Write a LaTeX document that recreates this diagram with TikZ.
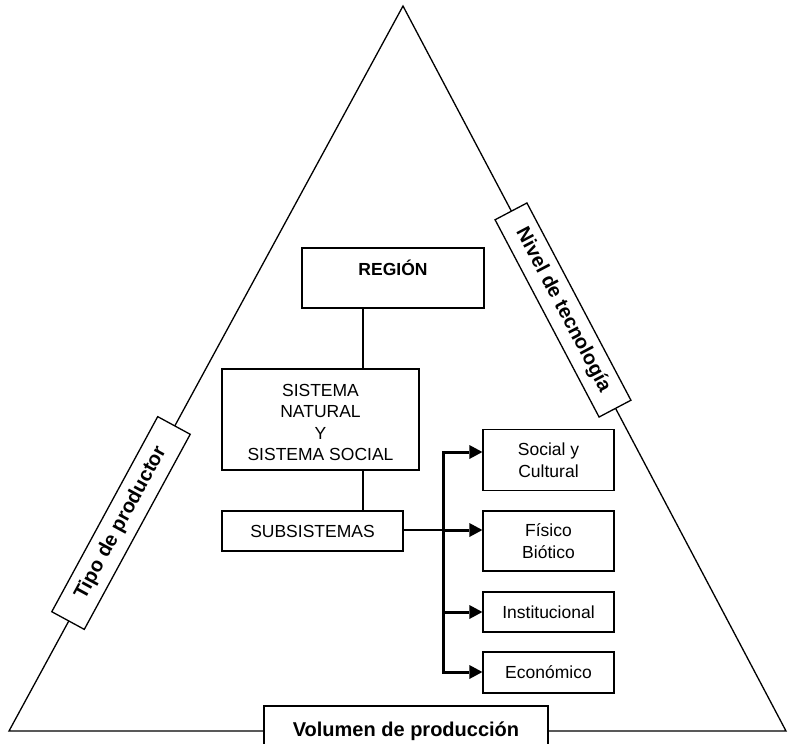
\documentclass[tikz,border=0pt]{standalone}
\usepackage{fontspec}
\setmainfont{Liberation Sans}
\usetikzlibrary{arrows.meta}
\begin{document}
\begin{tikzpicture}[x=1pt,y=-1pt,line width=1.3pt,
  box/.style={draw,fill=white,line width=1.3pt,inner sep=0pt,align=center,
    font=\fontsize{17.5}{21.5}\selectfont},
  boxtext/.style={inner sep=0pt,align=center,font=\fontsize{17.5}{21.5}\selectfont},
  lbl/.style={draw,fill=white,line width=1.3pt,inner sep=0pt,
    font=\fontsize{20}{24}\selectfont\bfseries},
  arr/.style={line width=3pt,-{Triangle[length=13pt,width=14pt,line width=0pt]}},
  conn/.style={line width=1.3pt}
]
\useasboundingbox (0,0) rectangle (790,744);
\clip (0,0) rectangle (790,744);
\fill[white] (0,0) rectangle (790,744);

% triangle
\coordinate (apex) at (403,6);
\coordinate (bl) at (9,731);
\coordinate (br) at (786,731);
\draw[line width=1.3pt] (apex) -- (bl) -- (br) -- cycle;

% side labels
\node[lbl,rotate=61.5,minimum width=222pt,minimum height=37pt] (tipo) at (121,523) {Tipo de productor};
\node[lbl,rotate=-62.2,minimum width=223pt,minimum height=36pt] (nivel) at (563,310) {Nivel de tecnología};
\node[lbl,minimum width=284pt,minimum height=50pt] (volumen) at (406,731) {Volumen de producción};

% central boxes
\node[box,minimum width=182pt,minimum height=60pt] (region) at (393,278) {};
\node[boxtext,font=\fontsize{17.5}{21.5}\selectfont\bfseries,anchor=base] (regiont) at (393,275.5) {REGIÓN};

\node[box,minimum width=197pt,minimum height=101pt] (sistema) at (320.5,419.5) {};
\node[boxtext] (sistemat) at (320.5,422.5) {SISTEMA\\NATURAL\\Y\\SISTEMA SOCIAL};

\node[box,minimum width=181pt,minimum height=40pt] (subsist) at (312.5,531) {SUBSISTEMAS};

% right boxes
\node[box,minimum width=131pt,minimum height=61pt] (social) at (548.5,460) {Social y\\Cultural};
\node[box,minimum width=131pt,minimum height=60pt] (fisico) at (548.5,541) {Físico\\Biótico};
\node[box,minimum width=131pt,minimum height=40pt] (inst) at (548.5,612) {Institucional};
\node[box,minimum width=131pt,minimum height=41pt] (econ) at (548.5,672.5) {Económico};

% connectors
\draw[conn] ([xshift=-30pt]region.south) -- ([xshift=-30pt]region.south |- sistema.north);
\draw[conn] ([xshift=42.5pt]sistema.south) -- ([xshift=42.5pt]sistema.south |- subsist.north);

\coordinate (b1) at (443,452);
\coordinate (b2) at (443,530);
\coordinate (b3) at (443,612);
\coordinate (b4) at (443,672);

\draw[conn] (subsist.east |- b2) -- (b2);
\draw[line width=3pt,{Triangle[length=13pt,width=14pt,line width=0pt]}-{Triangle[length=13pt,width=14pt,line width=0pt]}]
  (b1 -| social.west) -- (b1) -- (b4) -- (b4 -| econ.west);
\draw[arr] (b2) -- (b2 -| fisico.west);
\draw[arr] (b3) -- (b3 -| inst.west);
\end{tikzpicture}
\end{document}
